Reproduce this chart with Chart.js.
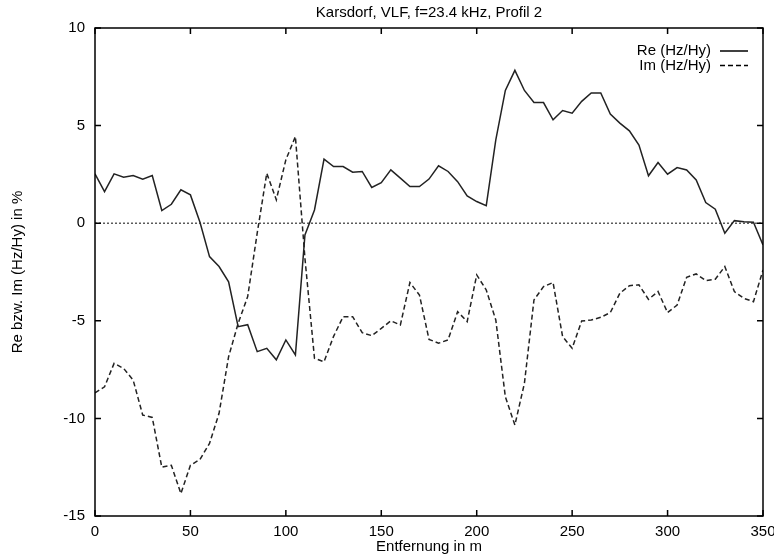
<!DOCTYPE html>
<html>
<head>
<meta charset="utf-8">
<script src="https://cdn.jsdelivr.net/npm/chart.js@4/dist/chart.umd.min.js"></script>
<style>
  body { margin: 0; background: #fff; }
  #chart { display: block; }
</style>
</head>
<body>
<canvas id="chart" width="774" height="555"></canvas>
<script>
// Entfernung in m
const distances = [0, 5, 10, 15, 20, 25, 30, 35, 40, 45, 50, 55, 60, 65, 70, 75, 80, 85, 90, 95,
    100, 105, 110, 115, 120, 125, 130, 135, 140, 145, 150, 155, 160, 165, 170, 175, 180, 185, 190, 195,
    200, 205, 210, 215, 220, 225, 230, 235, 240, 245, 250, 255, 260, 265, 270, 275, 280, 285, 290, 295,
    300, 305, 310, 315, 320, 325, 330, 335, 340, 345, 350];

// Re (Hz/Hy) in %
const reValues = [2.53, 1.62, 2.53, 2.36, 2.44, 2.26, 2.44, 0.65, 0.97, 1.71, 1.45, 0.05, -1.71, -2.22, -3.0, -5.3, -5.2, -6.58, -6.41, -7.0,
    -5.98, -6.75, -0.6, 0.68, 3.28, 2.9, 2.9, 2.61, 2.65, 1.83, 2.08, 2.73, 2.31, 1.88, 1.88, 2.26, 2.94, 2.65, 2.13, 1.4,
    1.11, 0.9, 4.27, 6.8, 7.83, 6.8, 6.18, 6.18, 5.3, 5.77, 5.64, 6.24, 6.67, 6.67, 5.59, 5.13, 4.73, 4.0, 2.43, 3.11,
    2.51, 2.85, 2.73, 2.22, 1.06, 0.72, -0.51, 0.13, 0.07, 0.05, -1.11];

// Im (Hz/Hy) in %
const imValues = [-8.69, -8.38, -7.18, -7.44, -8.04, -9.83, -9.95, -12.5, -12.4, -13.85, -12.4, -12.1, -11.28, -9.74, -6.84, -5.13, -3.76, -0.5, 2.56, 1.2,
    3.25, 4.44, -1.8, -6.92, -7.1, -5.8, -4.79, -4.79, -5.61, -5.76, -5.39, -5.0, -5.21, -3.04, -3.68, -5.95, -6.15, -5.98, -4.53, -5.04,
    -2.65, -3.42, -4.96, -8.89, -10.34, -8.2, -3.93, -3.25, -3.04, -5.81, -6.41, -5.01, -4.96, -4.82, -4.58, -3.59, -3.2, -3.16, -3.9, -3.5,
    -4.58, -4.19, -2.77, -2.6, -2.94, -2.87, -2.22, -3.5, -3.85, -4.02, -2.4];

const xTicks = [0, 50, 100, 150, 200, 250, 300, 350];
const yTicks = [-15, -10, -5, 0, 5, 10];

const FONT = "'Liberation Sans', Arial, Helvetica, sans-serif";

function toPoints(xs, ys) {
    let pts = [];
    for (let i = 0; i < xs.length; i++) {
        pts.push({ x: xs[i], y: ys[i] });
    }
    return pts;
}

// frame, inner tick marks (gnuplot style) and legend with sample line after text
const framePlugin = {
    id: "frame",
    afterDatasetsDraw(chart) {
        const ctx = chart.ctx;
        const a = chart.chartArea;
        const xs = chart.scales.x;
        const ys = chart.scales.y;
        ctx.save();
        ctx.strokeStyle = "#000";
        ctx.lineWidth = 1.5;
        ctx.setLineDash([]);
        ctx.strokeRect(a.left, a.top, a.right - a.left, a.bottom - a.top);
        ctx.beginPath();
        xTicks.forEach(v => {
            const px = xs.getPixelForValue(v);
            ctx.moveTo(px, a.bottom); ctx.lineTo(px, a.bottom - 6);
            ctx.moveTo(px, a.top); ctx.lineTo(px, a.top + 6);
        });
        yTicks.forEach(v => {
            const py = ys.getPixelForValue(v);
            ctx.moveTo(a.left, py); ctx.lineTo(a.left + 6, py);
            ctx.moveTo(a.right, py); ctx.lineTo(a.right - 6, py);
        });
        ctx.stroke();

        // legend
        ctx.font = "15px " + FONT;
        ctx.fillStyle = "#000";
        ctx.textAlign = "right";
        ctx.textBaseline = "middle";
        for (let i = 0; i < 2; i++) {
            const ds = chart.data.datasets[i];
            const y = a.top + 23 + i * 14.5;
            ctx.fillText(ds.label, a.right - 52, y);
            ctx.beginPath();
            ctx.lineWidth = ds.borderWidth;
            ctx.setLineDash(ds.borderDash || []);
            ctx.moveTo(a.right - 43, y);
            ctx.lineTo(a.right - 15, y);
            ctx.stroke();
        }
        ctx.restore();
    }
};

new Chart(document.getElementById("chart"), {
    type: "line",
    data: {
        datasets: [{
            label: "Re (Hz/Hy)",
            data: toPoints(distances, reValues),
            borderColor: "#222",
            borderWidth: 1.5,
            pointRadius: 0,
            tension: 0
        }, {
            label: "Im (Hz/Hy)",
            data: toPoints(distances, imValues),
            borderColor: "#222",
            borderWidth: 1.5,
            borderDash: [5, 3],
            pointRadius: 0,
            tension: 0
        }, {
            label: "zero",
            data: [{ x: 0, y: 0 }, { x: 350, y: 0 }],
            borderColor: "#333",
            borderWidth: 1.2,
            borderDash: [2, 2],
            pointRadius: 0
        }]
    },
    options: {
        responsive: false,
        animation: false,
        layout: { padding: { left: 0, right: 11, top: 0, bottom: 0 } },
        plugins: {
            legend: { display: false },
            tooltip: { enabled: false },
            title: {
                display: true,
                fullSize: false,
                text: "Karsdorf, VLF, f=23.4 kHz, Profil 2",
                color: "#000",
                font: { family: FONT, size: 15, weight: "normal", lineHeight: 1.2 },
                padding: { top: 4, bottom: 6 }
            }
        },
        scales: {
            x: {
                type: "linear",
                min: 0,
                max: 350,
                afterBuildTicks(scale) {
                    scale.ticks = xTicks.map(v => ({ value: v }));
                },
                afterFit(scale) {
                    scale.height = 39;
                    scale.paddingLeft = 0;
                    scale.paddingRight = 0;
                },
                grid: { display: false, drawTicks: false },
                border: { display: false },
                ticks: {
                    color: "#000",
                    padding: 7,
                    maxRotation: 0,
                    font: { family: FONT, size: 15 }
                },
                title: {
                    display: true,
                    text: "Entfernung in m",
                    color: "#000",
                    font: { family: FONT, size: 15, lineHeight: 1 },
                    padding: { top: 0, bottom: 1 }
                }
            },
            y: {
                min: -15,
                max: 10,
                afterBuildTicks(scale) {
                    scale.ticks = yTicks.map(v => ({ value: v }));
                },
                afterFit(scale) {
                    scale.width = 95;
                    scale.paddingTop = 0;
                    scale.paddingBottom = 0;
                },
                grid: { display: false, drawTicks: false },
                border: { display: false },
                ticks: {
                    color: "#000",
                    padding: 10,
                    font: { family: FONT, size: 15 }
                },
                title: {
                    display: true,
                    text: "Re bzw. Im (Hz/Hy) in %",
                    color: "#000",
                    font: { family: FONT, size: 15, lineHeight: 1.2 },
                    padding: { top: 9, bottom: 0 }
                }
            }
        }
    },
    plugins: [framePlugin]
});
</script>
</body>
</html>
